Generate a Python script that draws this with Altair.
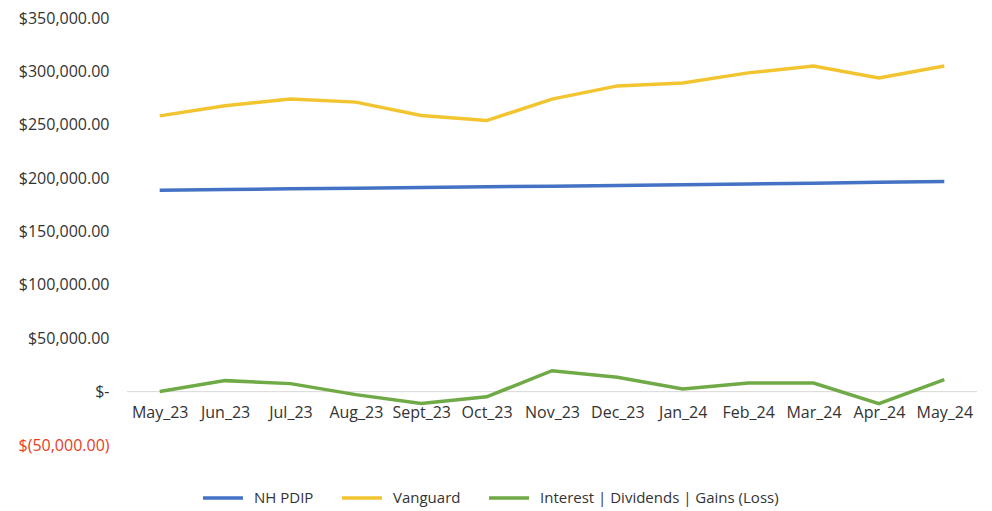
import altair as alt
import pandas as pd

months = ["May_23", "Jun_23", "Jul_23", "Aug_23", "Sept_23", "Oct_23", "Nov_23",
          "Dec_23", "Jan_24", "Feb_24", "Mar_24", "Apr_24", "May_24"]
nh_pdip = [188600, 189300, 190000, 190600, 191200, 191900, 192500,
           193200, 193900, 194600, 195300, 196100, 196900]
vanguard = [258300, 267700, 274200, 271200, 258600, 253900, 274000,
            286400, 289200, 298600, 305100, 293900, 305100]
interest = [200, 10300, 7500, -2800, -11200, -4900, 19600,
            13500, 2500, 8100, 8100, -11200, 11200]
series_names = ["NH PDIP", "Vanguard", "Interest | Dividends | Gains (Loss)"]
series_colors = ["#4472C4", "#F2C530", "#6FAA46"]
y_ticks = [-50000, 0, 50000, 100000, 150000, 200000, 250000, 300000, 350000]

rows = []
for name, vals in zip(series_names, [nh_pdip, vanguard, interest]):
    for m, v in zip(months, vals):
        rows.append({"Month": m, "Series": name, "Value": v})
df = pd.DataFrame(rows)

FONT = "Open Sans"

label_expr = ("datum.value == 0 ? '$-\u00a0\u00a0\u00a0' : (datum.value < 0 ? '$(' + format(-datum.value, ',.2f') + ')' "
              ": '$' + format(datum.value, ',.2f'))")

lines = alt.Chart(df).mark_line(strokeWidth=3.5).encode(
    x=alt.X("Month:N", sort=months, title=None,
            scale=alt.Scale(paddingInner=0, paddingOuter=0.5),
            axis=alt.Axis(orient="bottom", offset=-54, domain=False, ticks=False,
                          labelAngle=0, labelPadding=13, labelFont=FONT,
                          labelFontSize=16, labelColor="#333333", grid=False)),
    y=alt.Y("Value:Q", title=None,
            scale=alt.Scale(domain=[-50000, 350000], nice=False, zero=False),
            axis=alt.Axis(values=y_ticks, labelExpr=label_expr, domain=False,
                          ticks=False, grid=False, labelPadding=18, labelFont=FONT,
                          labelFontSize=16,
                          labelColor={"condition": {"test": "datum.value < 0", "value": "#E8401C"},
                                      "value": "#333333"})),
    color=alt.Color("Series:N", sort=series_names,
                    scale=alt.Scale(domain=series_names, range=series_colors),
                    legend=alt.Legend(title=None, orient="none", direction="horizontal",
                                      legendX=74, legendY=458, symbolType="stroke",
                                      symbolSize=1600, symbolStrokeWidth=3.5,
                                      labelFont=FONT, labelFontSize=15, labelColor="#333333",
                                      labelOffset=9, columnPadding=21, labelLimit=400)),
    order=alt.Order("Series:N"),
)

zero = alt.Chart(pd.DataFrame({"z": [0]})).mark_rule(color="#D9D9D9", strokeWidth=1).encode(
    y="z:Q"
)

chart = alt.layer(zero, lines).properties(
    width=850, height=427,
    autosize=alt.AutoSizeParams(type="none"),
    padding={"left": 119, "top": 10, "right": 7, "bottom": 66},
).configure_view(stroke=None)

chart.save("out.html", embed_options={"renderer": "svg", "actions": False})
